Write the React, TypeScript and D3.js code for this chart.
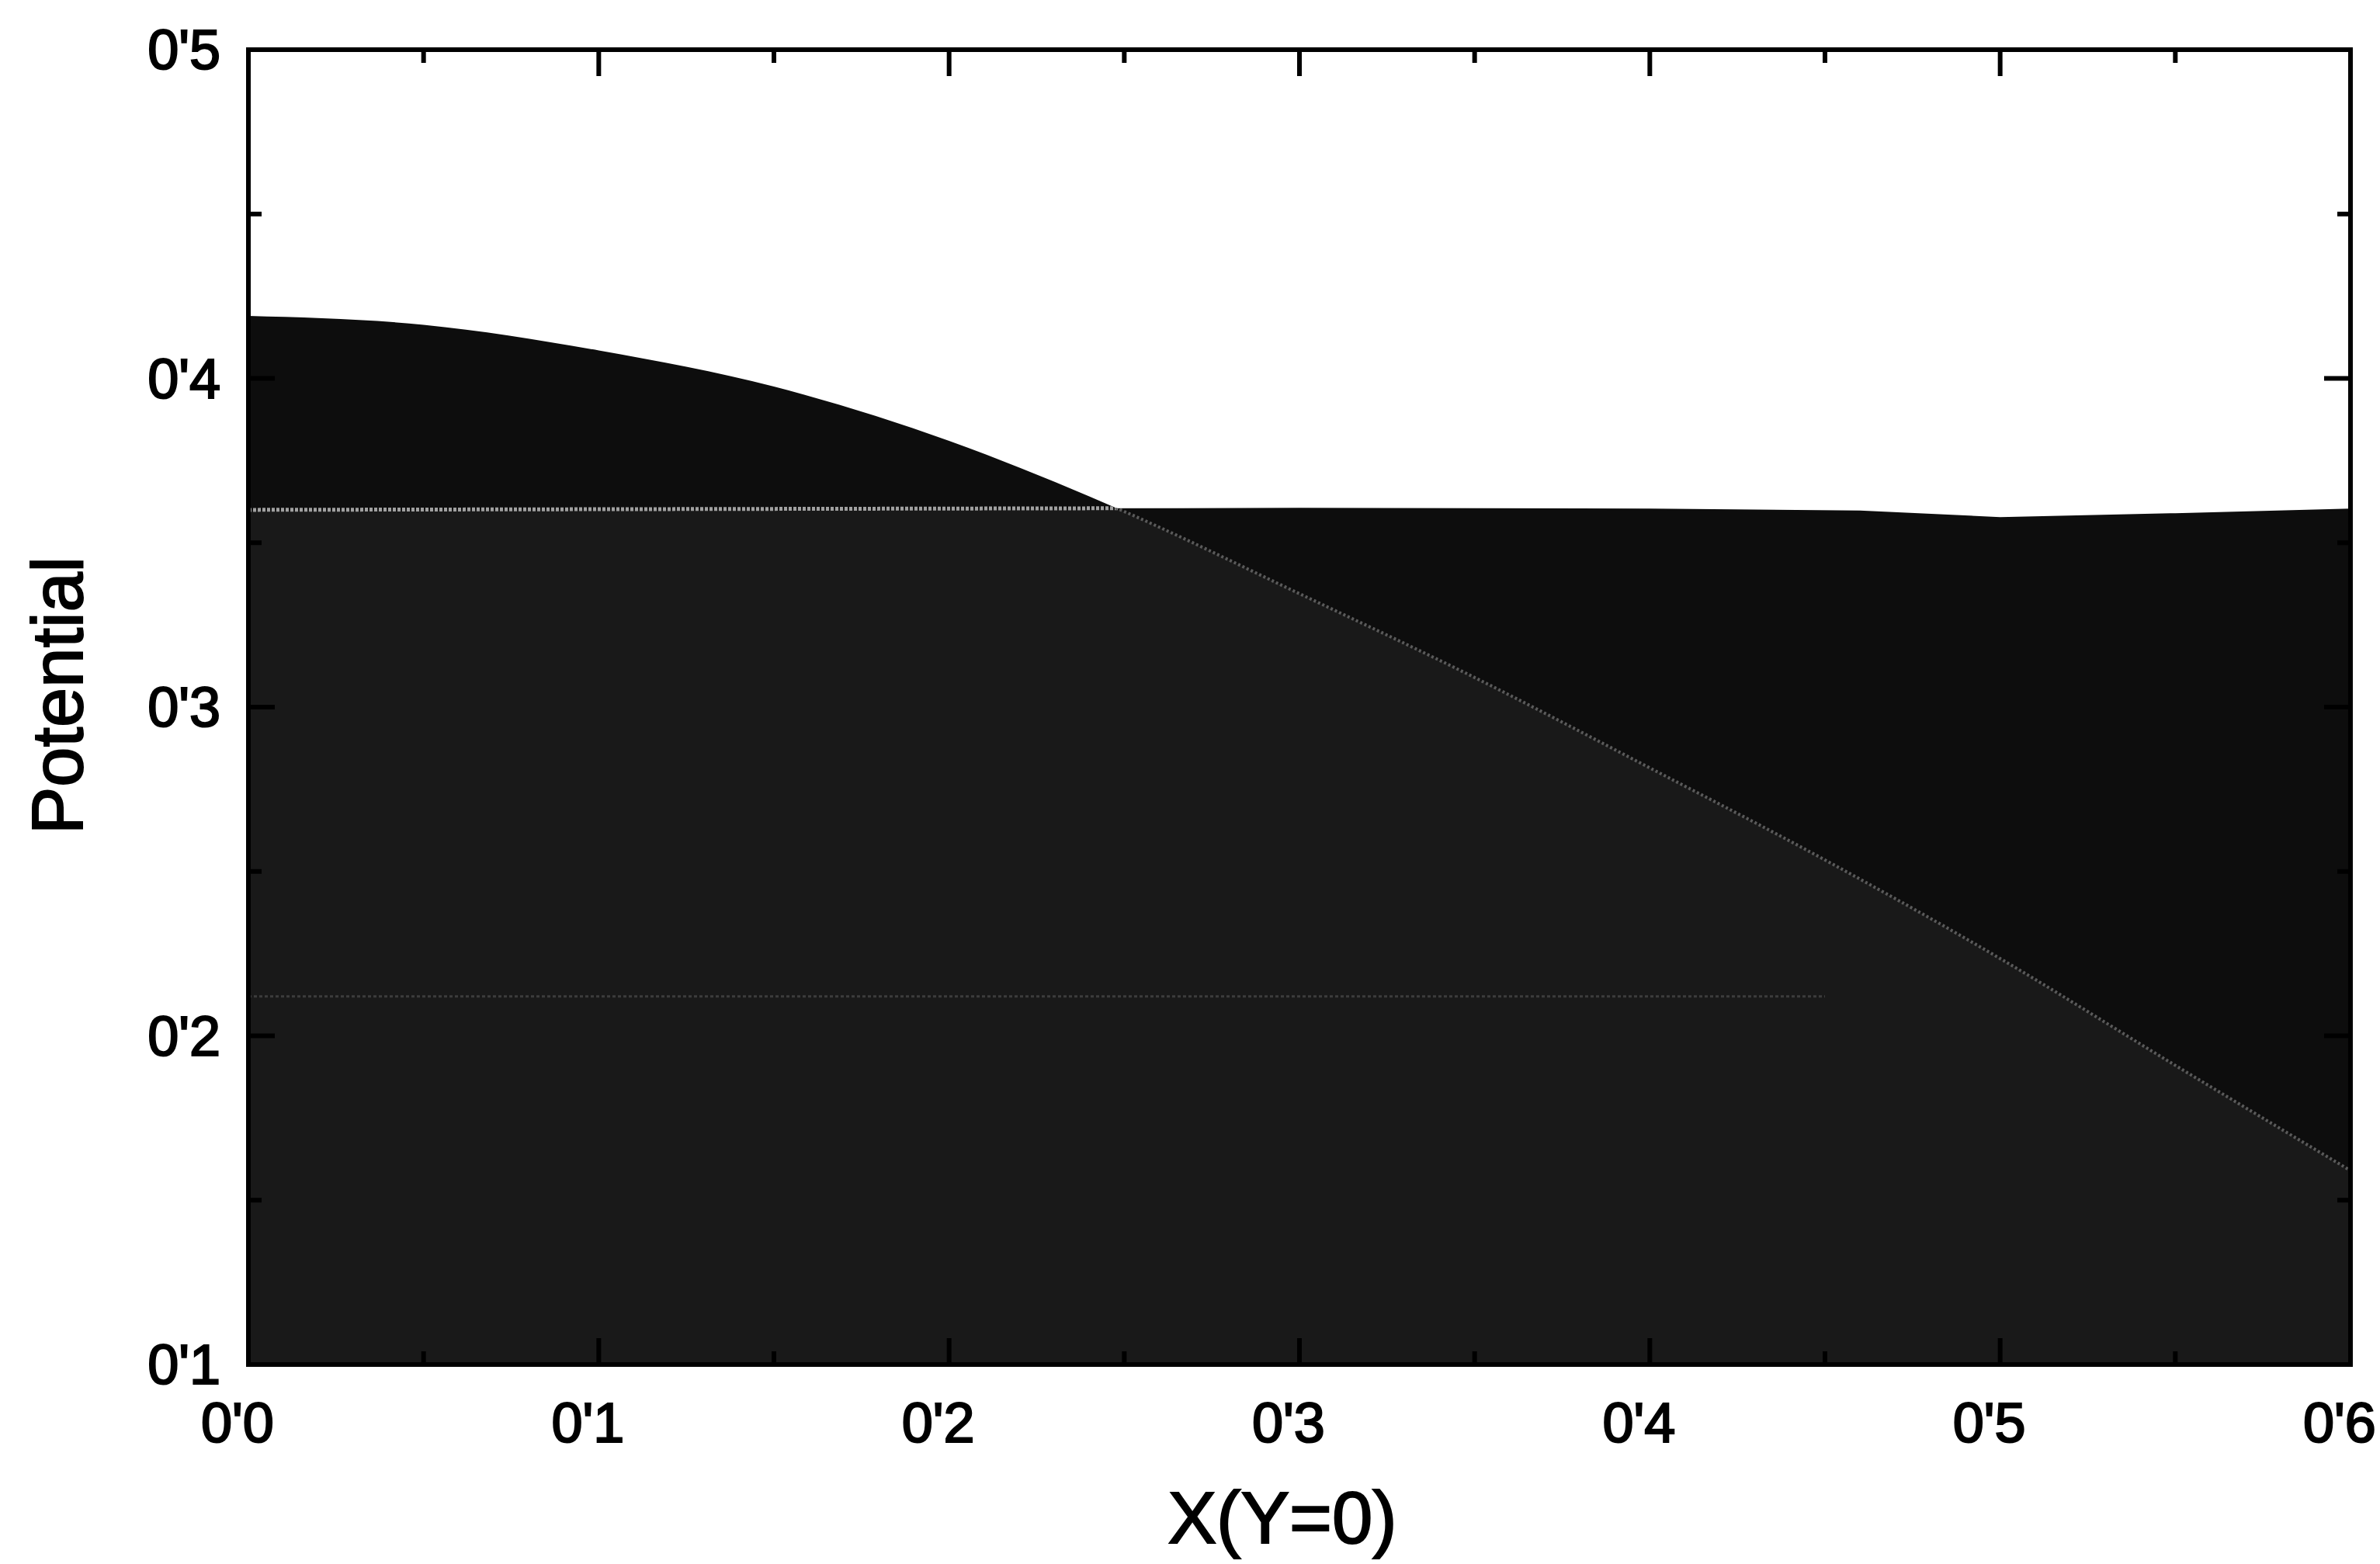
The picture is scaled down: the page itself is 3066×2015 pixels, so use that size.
import React from 'react';
import * as d3 from 'd3';

// page size
const W = 3066;
const H = 2015;
const margin = { left: 320, right: 38, top: 64, bottom: 257 };

// axis ticks
const xTicks = [0, 0.1, 0.2, 0.3, 0.4, 0.5, 0.6];
const xTickLabels = ["0'0", "0'1", "0'2", "0'3", "0'4", "0'5", "0'6"];
const xMinor = [0.05, 0.15, 0.25, 0.35, 0.45, 0.55];
const yTicks = [0.1, 0.2, 0.3, 0.4, 0.5];
const yTickLabels = ["0'1", "0'2", "0'3", "0'4", "0'5"];
const yMinor = [0.15, 0.25, 0.35, 0.45];

// curved potential (drops from the top-left)
const curveX = [0, 0.05, 0.1, 0.15, 0.2, 0.25, 0.3, 0.35, 0.4, 0.45, 0.5, 0.55, 0.6];
const curveY = [0.419, 0.4163, 0.4085, 0.3975, 0.381, 0.3595, 0.3345, 0.309, 0.2815, 0.2535, 0.2235, 0.191, 0.159];

// nearly flat potential
const flatX = [0, 0.1, 0.2, 0.3, 0.4, 0.46, 0.5, 0.55, 0.6];
const flatY = [0.36, 0.3602, 0.3604, 0.3606, 0.3604, 0.3598, 0.3578, 0.359, 0.3604];

// faint level line seen through the fill
const levelX = [0, 0.45];
const levelY = [0.212, 0.212];

const font = '"Liberation Sans", Arial, Helvetica, sans-serif';

export default function App() {
  const iw = W - margin.left - margin.right;
  const ih = H - margin.top - margin.bottom;

  const x = d3.scaleLinear().domain([0, 0.6]).range([0, iw]);
  const y = d3.scaleLinear().domain([0.1, 0.5]).range([ih, 0]);

  const curvePts = curveX.map((d, i) => [d, curveY[i]] as [number, number]);
  const flatPts = flatX.map((d, i) => [d, flatY[i]] as [number, number]);
  const levelPts = levelX.map((d, i) => [d, levelY[i]] as [number, number]);

  const areaCurve = d3.area<[number, number]>()
    .x(d => x(d[0])).y0(y(0.1)).y1(d => y(d[1]))
    .curve(d3.curveMonotoneX);
  const areaFlat = d3.area<[number, number]>()
    .x(d => x(d[0])).y0(y(0.1)).y1(d => y(d[1]));
  const lineCurve = d3.line<[number, number]>()
    .x(d => x(d[0])).y(d => y(d[1]))
    .curve(d3.curveMonotoneX);
  const lineFlat = d3.line<[number, number]>()
    .x(d => x(d[0])).y(d => y(d[1]));

  const major = 34, minor = 17;

  return (
    <svg width={W} height={H} style={{ position: 'absolute', left: 0, top: 0, background: '#fff' }}>
      <defs>
        <clipPath id="clipCurve"><path d={areaCurve(curvePts) || ''} /></clipPath>
        <clipPath id="clipFlat"><path d={areaFlat(flatPts) || ''} /></clipPath>
      </defs>
      <g transform={`translate(${margin.left},${margin.top})`}>
        {/* filled areas */}
        <path d={areaCurve(curvePts) || ''} fill="#0d0d0d" />
        <path d={areaFlat(flatPts) || ''} fill="#0d0d0d" />
        <path d={areaFlat(flatPts) || ''} fill="#191919" clipPath="url(#clipCurve)" />

        {/* boundary lines seen through the other fill */}
        <path d={lineFlat(flatPts) || ''} fill="none" stroke="#a0a0a0" strokeWidth={5}
          strokeDasharray="4 2" clipPath="url(#clipCurve)" />
        <path d={lineCurve(curvePts) || ''} fill="none" stroke="#5a5a5a" strokeWidth={4}
          strokeDasharray="3 3" clipPath="url(#clipFlat)" />
        <path d={lineFlat(levelPts) || ''} fill="none" stroke="#3c3c3c" strokeWidth={3}
          strokeDasharray="4 3" />

        {/* frame */}
        <rect x={0} y={0} width={iw} height={ih} fill="none" stroke="#000" strokeWidth={6} />

        {/* ticks, pointing inward */}
        {xTicks.map(t => (
          <g key={'xt' + t}>
            <line x1={x(t)} x2={x(t)} y1={0} y2={major} stroke="#000" strokeWidth={6} />
            <line x1={x(t)} x2={x(t)} y1={ih} y2={ih - major} stroke="#000" strokeWidth={6} />
          </g>
        ))}
        {xMinor.map(t => (
          <g key={'xm' + t}>
            <line x1={x(t)} x2={x(t)} y1={0} y2={minor} stroke="#000" strokeWidth={6} />
            <line x1={x(t)} x2={x(t)} y1={ih} y2={ih - minor} stroke="#000" strokeWidth={6} />
          </g>
        ))}
        {yTicks.map(t => (
          <g key={'yt' + t}>
            <line x1={0} x2={major} y1={y(t)} y2={y(t)} stroke="#000" strokeWidth={6} />
            <line x1={iw} x2={iw - major} y1={y(t)} y2={y(t)} stroke="#000" strokeWidth={6} />
          </g>
        ))}
        {yMinor.map(t => (
          <g key={'ym' + t}>
            <line x1={0} x2={minor} y1={y(t)} y2={y(t)} stroke="#000" strokeWidth={6} />
            <line x1={iw} x2={iw - minor} y1={y(t)} y2={y(t)} stroke="#000" strokeWidth={6} />
          </g>
        ))}

        {/* tick labels */}
        {xTicks.map((t, i) => (
          <text key={'xl' + t} x={x(t) - 14} y={ih + 100} textAnchor="middle"
            fontFamily={font} fontSize={72} stroke="#000" strokeWidth={2.2}>{xTickLabels[i]}</text>
        ))}
        {yTicks.map((t, i) => (
          <text key={'yl' + t} x={-36} y={y(t) + 25} textAnchor="end"
            fontFamily={font} fontSize={72} stroke="#000" strokeWidth={2.2}>{yTickLabels[i]}</text>
        ))}

        {/* axis titles */}
        <text x={1652 - margin.left} y={1988 - margin.top} textAnchor="middle"
          fontFamily={font} fontSize={94} stroke="#000" strokeWidth={2}>X(Y=0)</text>
        <text transform={`translate(${106 - margin.left},${896 - margin.top}) rotate(-90)`}
          textAnchor="middle" fontFamily={font} fontSize={92} stroke="#000" strokeWidth={2}>Potential</text>
      </g>
    </svg>
  );
}
